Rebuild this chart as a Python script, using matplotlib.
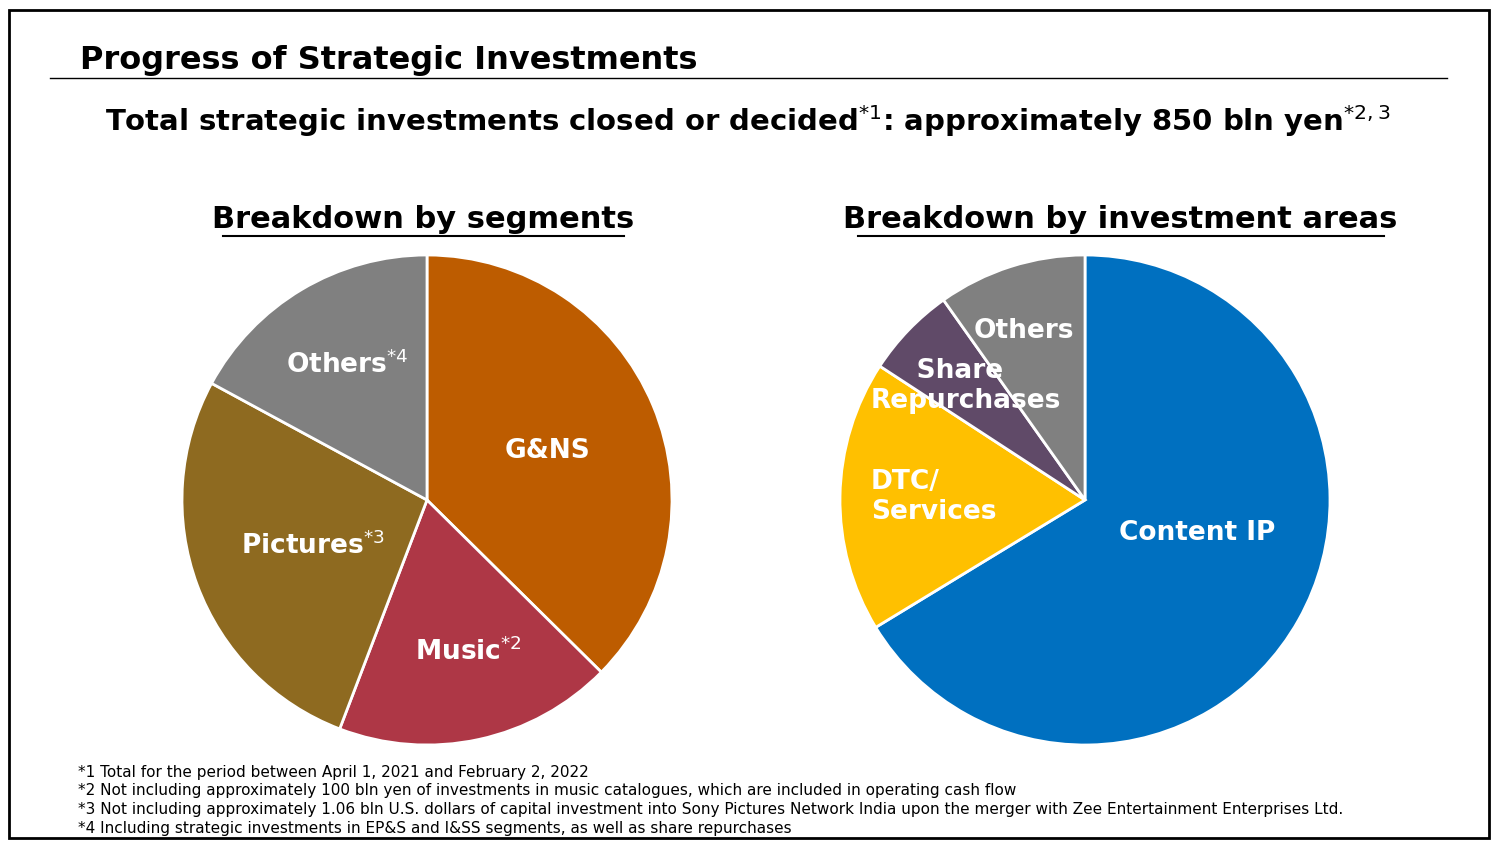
import matplotlib.pyplot as plt
from matplotlib.patches import Rectangle

seg_labels = ["G&NS", "Music$^{*2}$", "Pictures$^{*3}$", "Others$^{*4}$"]
seg_values = [37.4, 18.4, 27.1, 17.1]
seg_colors = ["#BD5C00", "#AE3746", "#8E6A20", "#808080"]

area_labels = ["Content IP", "DTC/\nServices", "Share\nRepurchases", "Others"]
area_values = [66.3, 17.9, 6.0, 9.8]
area_colors = ["#0070C0", "#FFC000", "#604A68", "#808080"]

footnotes = [
    "*1 Total for the period between April 1, 2021 and February 2, 2022",
    "*2 Not including approximately 100 bln yen of investments in music catalogues, which are included in operating cash flow",
    "*3 Not including approximately 1.06 bln U.S. dollars of capital investment into Sony Pictures Network India upon the merger with Zee Entertainment Enterprises Ltd.",
    "*4 Including strategic investments in EP&S and I&SS segments, as well as share repurchases",
]

W, H = 1500, 852
fig = plt.figure(figsize=(15, 8.52), dpi=100)
fig.patches.append(Rectangle((9/W, 1-838/H), 1480/W, 828/H, transform=fig.transFigure,
                             fill=False, lw=2, ec="black"))
fig.lines.append(plt.Line2D([50/W, 1447/W], [1-78/H]*2, transform=fig.transFigure, color="black", lw=1))
fig.text(80/W, 1-60/H, "Progress of Strategic Investments", fontsize=23, fontweight="bold", va="center")
fig.text(748/W, 1-121/H, "Total strategic investments closed or decided$^{*1}$: approximately 850 bln yen$^{*2,3}$",
         fontsize=21, fontweight="bold", va="center", ha="center")
for x, t in [(423, "Breakdown by segments"), (1120, "Breakdown by investment areas")]:
    fig.text(x/W, 1-220/H, t, fontsize=22, fontweight="bold", ha="center", va="center")
fig.lines.append(plt.Line2D([223/W, 624/W], [1-236/H]*2, transform=fig.transFigure, color="black", lw=1.5))
fig.lines.append(plt.Line2D([858/W, 1384/W], [1-236/H]*2, transform=fig.transFigure, color="black", lw=1.5))

def make_pie(cx, cy, r, vals, cols):
    ax = fig.add_axes([(cx-r)/W, 1-(cy+r)/H, 2*r/W, 2*r/H])
    ax.pie(vals, colors=cols, startangle=90, counterclock=False,
           wedgeprops=dict(edgecolor="white", linewidth=2))
    ax.set_xlim(-1, 1); ax.set_ylim(-1, 1); ax.set_aspect("auto")
    ax.axis("off")
    return ax

make_pie(427, 500, 245, seg_values, seg_colors)
make_pie(1085, 500, 245, area_values, area_colors)

tk = dict(color="white", fontsize=19, fontweight="bold", va="center")
for (x, y), t in zip([(547, 451), (468, 652), (313, 546), (347, 365)], seg_labels):
    fig.text(x/W, 1-y/H, t, ha="center", **tk)
fig.text(1197/W, 1-533/H, area_labels[0], ha="center", **tk)
fig.text(871/W, 1-497/H, area_labels[1], ha="left", linespacing=1.2, **tk)
fig.text(871/W, 1-386/H, area_labels[2], ha="left", linespacing=1.2, **tk)
fig.text(1024/W, 1-331/H, area_labels[3], ha="center", **tk)
for t in [fig.texts[-2]]:
    pass
# center "Share" line over "Repurchases"
fig.texts[-2].set_text("     Share\nRepurchases")

for i, t in enumerate(footnotes):
    fig.text(78/W, 1-(772+18.7*i)/H, t, fontsize=11, va="center")

fig.savefig("out.png", dpi=100, facecolor="white")
